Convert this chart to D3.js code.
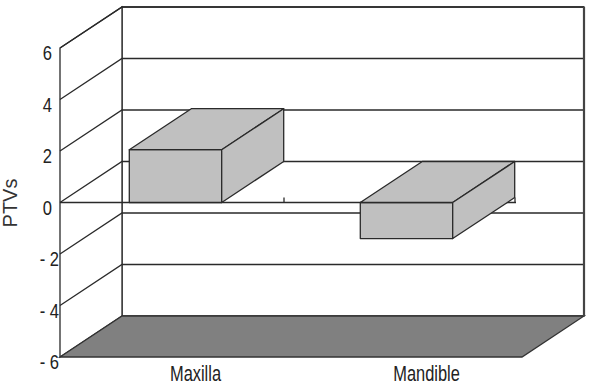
<!DOCTYPE html>
<meta charset="utf-8">
<style>

body {
  margin: 0;
  background: #fff;
}

svg {
  font-family: "Liberation Sans", Arial, sans-serif;
}

.grid path {
  fill: none;
  stroke: #2a2a2a;
  stroke-width: 1.3;
}

.tick-label {
  font-size: 18px;
  fill: #222;
}

</style>
<svg width="589" height="386"></svg>
<script src="https://d3js.org/d3.v7.min.js"></script>
<script>

var categories = ["Maxilla", "Mandible"];
var values = [2.05, -1.4];
var yTicks = [-6, -4, -2, 0, 2, 4, 6];
var yTitle = "PTVs";

var svg = d3.select("svg"),
    x0 = 60, x1 = 522,
    depthX = 62, depthY = -41;

var x = d3.scaleBand()
    .domain(categories)
    .range([x0, x1]);

var y = d3.scaleLinear()
    .domain([-6, 6])
    .range([357, 48]);

// point on the front plane (depth 0) or pushed back (depth 1)
function P(px, v, depth) {
  return [px + depth * depthX, y(v) + depth * depthY];
}

function poly(pts) {
  return "M" + pts.map(function(p) { return p.join(","); }).join("L") + "Z";
}

var lo = y.domain()[0], hi = y.domain()[1];

// walls
svg.append("path")
    .attr("d", poly([P(x0, hi, 1), P(x1, hi, 1), P(x1, lo, 1), P(x0, lo, 1)]))
    .attr("fill", "#fff")
    .attr("stroke", "#2a2a2a")
    .attr("stroke-width", 1.3);

svg.append("path")
    .attr("d", poly([P(x0, hi, 0), P(x0, hi, 1), P(x0, lo, 1), P(x0, lo, 0)]))
    .attr("fill", "#fff")
    .attr("stroke", "#2a2a2a")
    .attr("stroke-width", 1.3);

svg.append("path")
    .attr("d", poly([P(x0, lo, 0), P(x1, lo, 0), P(x1, lo, 1), P(x0, lo, 1)]))
    .attr("fill", "#808080")
    .attr("stroke", "#333")
    .attr("stroke-width", 1.3);

// gridlines: along the side wall then across the back wall
svg.append("g")
    .attr("class", "grid")
  .selectAll("path")
  .data(yTicks.filter(function(v) { return v > lo; }))
  .enter().append("path")
    .attr("d", function(v) {
      return "M" + P(x0, v, 0) + "L" + P(x0, v, 1) + "L" + P(x1, v, 1);
    });

svg.append("line")
    .attr("x1", P(x1, hi, 1)[0])
    .attr("y1", P(x1, hi, 1)[1])
    .attr("x2", P(x1, lo, 1)[0])
    .attr("y2", P(x1, lo, 1)[1])
    .attr("stroke", "#444")
    .attr("stroke-width", 2.2);

// category axis at zero on the front plane
svg.append("line")
    .attr("x1", x0).attr("y1", y(0))
    .attr("x2", x1 - 6).attr("y2", y(0))
    .attr("stroke", "#2a2a2a")
    .attr("stroke-width", 1.3);

svg.append("g")
  .selectAll("line")
  .data(categories)
  .enter().append("line")
    .attr("x1", function(d) { return x(d) + x.bandwidth() - 7; })
    .attr("x2", function(d) { return x(d) + x.bandwidth() - 7; })
    .attr("y1", y(0))
    .attr("y2", y(0) - 5)
    .attr("stroke", "#2a2a2a")
    .attr("stroke-width", 1.3);

// bars
var bw = x.bandwidth() * 0.4;
var bars = svg.append("g")
  .selectAll("g")
  .data(categories.map(function(c, i) { return {name: c, value: values[i]}; }))
  .enter().append("g")
    .attr("fill", "#c0c0c0")
    .attr("stroke", "#2a2a2a")
    .attr("stroke-width", 1.3)
    .attr("stroke-linejoin", "round");

function barBox(d) {
  var bx0 = x(d.name) + (x.bandwidth() - bw) / 2,
      bx1 = bx0 + bw,
      top = Math.max(0, d.value),
      bot = Math.min(0, d.value);
  return {bx0: bx0, bx1: bx1, top: top, bot: bot};
}

bars.append("path")
    .attr("d", function(d) {
      var b = barBox(d);
      return poly([P(b.bx0, b.top, 0), P(b.bx1, b.top, 0), P(b.bx1, b.bot, 0), P(b.bx0, b.bot, 0)]);
    });

bars.append("path")
    .attr("d", function(d) {
      var b = barBox(d);
      return poly([P(b.bx0, b.top, 0), P(b.bx0, b.top, 1), P(b.bx1, b.top, 1), P(b.bx1, b.top, 0)]);
    });

bars.append("path")
    .attr("d", function(d) {
      var b = barBox(d);
      return poly([P(b.bx1, b.top, 0), P(b.bx1, b.top, 1), P(b.bx1, b.bot, 1), P(b.bx1, b.bot, 0)]);
    });

// value labels
svg.append("g")
  .selectAll("text")
  .data(yTicks)
  .enter().append("text")
    .attr("class", "tick-label")
    .attr("text-anchor", "end")
    .attr("transform", function(v) {
      return "translate(" + (v < 0 ? 59 : 52) + "," + (y(v) + 12) + ") scale(0.92,1.15)";
    })
    .text(function(v) { return v < 0 ? "- " + Math.abs(v) : v; });

// category labels
svg.append("g")
  .selectAll("text")
  .data(categories)
  .enter().append("text")
    .attr("text-anchor", "middle")
    .attr("transform", function(d) {
      return "translate(" + (x(d) + x.bandwidth() / 2 + 20) + ",381) scale(0.82,1.1)";
    })
    .style("font-size", "20px")
    .style("fill", "#222")
    .text(function(d) { return d; });

svg.append("text")
    .attr("transform", "translate(17,203) rotate(-90)")
    .attr("text-anchor", "middle")
    .style("font-size", "20px")
    .style("fill", "#333")
    .text(yTitle);

</script>
